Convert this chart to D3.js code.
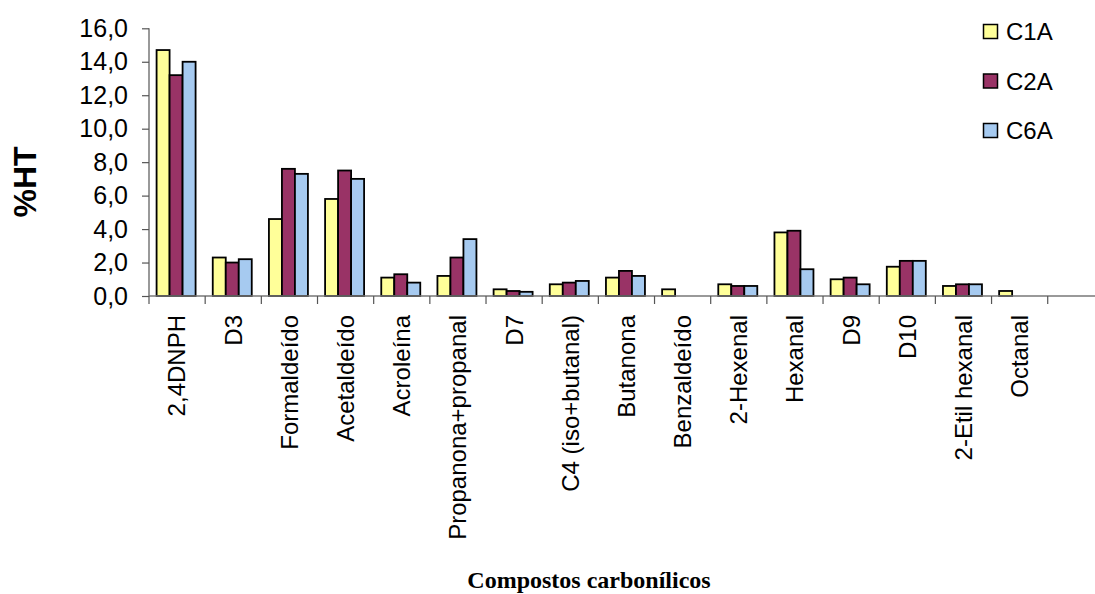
<!DOCTYPE html>
<html>
<head>
<meta charset="utf-8">
<script src="https://cdn.jsdelivr.net/npm/d3@7"></script>
<style>
  html, body { margin: 0; padding: 0; background: #fff; }
  svg { display: block; }
  text { font-family: "Liberation Sans", Arial, sans-serif; fill: #000; }
</style>
</head>
<body>
<svg id="chart" width="1095" height="594"></svg>
<script>
const categories = ["2,4DNPH","D3","Formaldeído","Acetaldeído","Acroleína","Propanona+propanal","D7","C4 (iso+butanal)","Butanona","Benzaldeído","2-Hexenal","Hexanal","D9","D10","2-Etil hexanal","Octanal"];
const seriesNames = ["C1A","C2A","C6A"];
const C1A = [14.7, 2.3, 4.6, 5.8, 1.1, 1.2, 0.4, 0.7, 1.1, 0.4, 0.7, 3.8, 1.0, 1.75, 0.6, 0.3];
const C2A = [13.2, 2.0, 7.6, 7.5, 1.3, 2.3, 0.3, 0.8, 1.5, 0, 0.6, 3.9, 1.1, 2.1, 0.7, 0];
const C6A = [14.0, 2.2, 7.3, 7.0, 0.8, 3.4, 0.25, 0.9, 1.2, 0, 0.6, 1.6, 0.7, 2.1, 0.7, 0];
const yTicks = [0, 2, 4, 6, 8, 10, 12, 14, 16];
const colors = ["#FFFF99", "#993366", "#A6CAF0"];
const yTitle = "%HT";
const xTitle = "Compostos carbonílicos";

const W = 1095, H = 594;
const x0 = 149, yTop = 28.3, yBase = 296;
const step = 56.17;
const svg = d3.select("#chart");

const x = d3.scaleBand().domain(categories).range([x0, x0 + step * categories.length]).padding(0);
const groupW = 39;
const x1 = d3.scaleBand().domain(seriesNames).range([0, groupW]).padding(0);
const y = d3.scaleLinear().domain([0, 16]).range([yBase, yTop]);

const series = [C1A, C2A, C6A];
const fmt = v => d3.format(".1f")(v).replace(".", ",");

// Bars
seriesNames.forEach((s, si) => {
  svg.append("g").selectAll("rect")
    .data(categories.map((c, i) => ({ c, v: series[si][i] })).filter(d => d.v > 0))
    .join("rect")
    .attr("x", d => x(d.c) + (x.bandwidth() - groupW) / 2 - 1 + x1(s))
    .attr("y", d => y(d.v))
    .attr("width", x1.bandwidth())
    .attr("height", d => y(0) - y(d.v))
    .attr("fill", colors[si])
    .attr("stroke", "#000")
    .attr("stroke-width", 1.8);
});

// Y axis
const yAxis = d3.axisLeft(y).tickValues(yTicks).tickFormat(fmt).tickSize(7).tickPadding(14);
const gy = svg.append("g").attr("transform", `translate(${x0},0)`).call(yAxis);
gy.select(".domain").attr("stroke", "#777").attr("stroke-width", 1.5).attr("d", `M0,${yTop}V${yBase}`);
gy.selectAll(".tick line").attr("stroke", "#555").attr("stroke-width", 1.2);
gy.selectAll(".tick text").style("font-size", "25px").style("font-family", "'Liberation Sans', Arial, sans-serif").attr("fill", "#000");

// X axis line
svg.append("line").attr("x1", x0).attr("x2", W).attr("y1", yBase).attr("y2", yBase)
  .attr("stroke", "#777").attr("stroke-width", 1.5);
// X ticks at slot boundaries
const boundaries = categories.map(c => x(c)).concat([x(categories[categories.length - 1]) + x.bandwidth()]);
svg.append("g").selectAll("line").data(boundaries).join("line")
  .attr("x1", d => d).attr("x2", d => d).attr("y1", yBase).attr("y2", yBase + 8)
  .attr("stroke", "#555").attr("stroke-width", 1.2);

// X labels
svg.append("g").selectAll("text").data(categories).join("text")
  .attr("transform", d => `translate(${x(d) + x.bandwidth() / 2},315) rotate(-90)`)
  .attr("text-anchor", "end")
  .attr("dy", "0.35em")
  .style("font-size", "24px")
  .text(d => d);

// Y title
svg.append("text")
  .attr("transform", "translate(36,182) rotate(-90)")
  .attr("text-anchor", "middle")
  .style("font-size", "32px")
  .style("font-weight", "bold")
  .text(yTitle);

// X title
svg.append("text")
  .attr("x", 589).attr("y", 588)
  .attr("text-anchor", "middle")
  .style("font-family", "'Liberation Serif', 'Times New Roman', serif")
  .style("font-size", "24px")
  .style("font-weight", "bold")
  .text(xTitle);

// Legend
const legend = svg.append("g");
seriesNames.forEach((s, i) => {
  const cy = 32 + i * 49.5;
  legend.append("rect").attr("x", 983.5).attr("y", cy - 7.5).attr("width", 14).attr("height", 14)
    .attr("fill", colors[i]).attr("stroke", "#000").attr("stroke-width", 1.5);
  legend.append("text").attr("x", 1006).attr("y", cy).attr("dy", "0.35em")
    .style("font-size", "24px").text(s);
});
</script>
</body>
</html>
